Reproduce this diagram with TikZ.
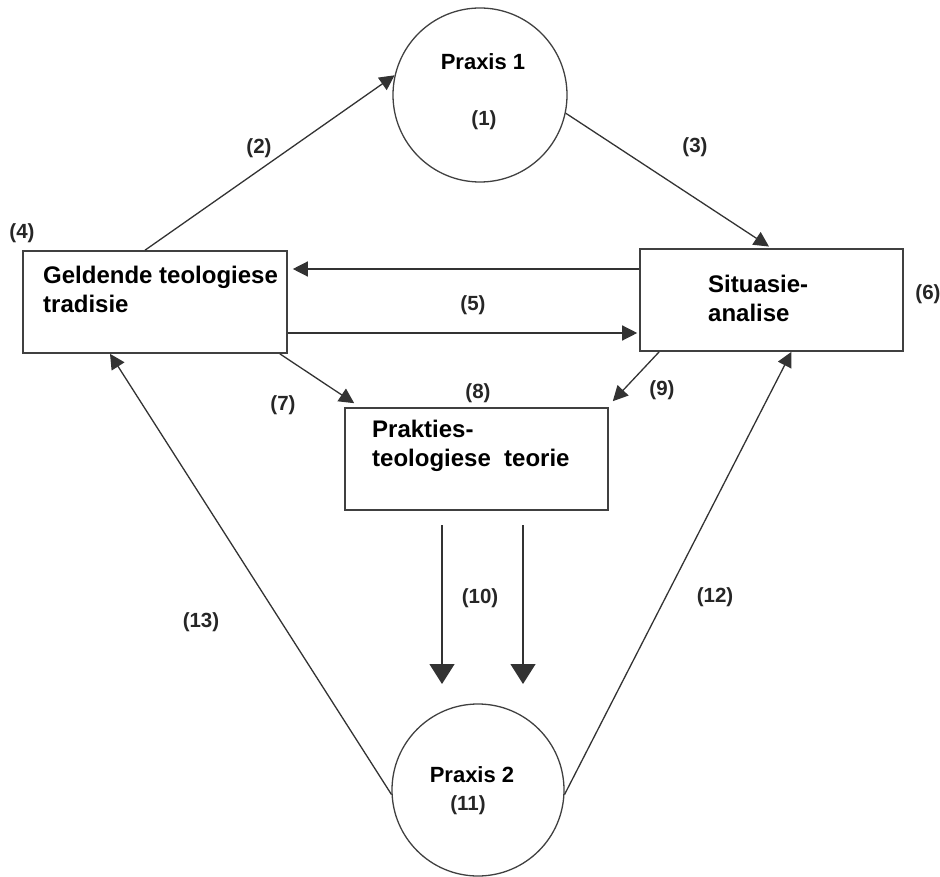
\documentclass[tikz,border=0pt]{standalone}
\usepackage{xcolor}
\usepackage{fontspec}
\setmainfont{Liberation Sans}
\usepackage{tikz}
\usetikzlibrary{arrows.meta}
\tikzset{box node/.style={rectangle,draw=black!75,line width=1.6pt,minimum width=263pt,minimum height=102pt,inner sep=0pt},
            circ node/.style={circle,draw=black!75,line width=1.3pt,minimum size=172pt,inner sep=0pt},
            box text/.style={anchor=north west,inner sep=0pt,align=left,font=\fontsize{24}{28.5}\selectfont\bfseries},
            circ text/.style={inner sep=0pt,font=\fontsize{22}{26}\selectfont\bfseries},
            num/.style={inner sep=0pt,font=\fontsize{20.5}{24}\selectfont\bfseries,text=black!85},
            link/.style={draw=black!80,line width=1.3pt,-{Triangle[width=15pt,length=15pt]}},
            big link/.style={draw=black!80,line width=1.3pt,-{Triangle[width=25pt,length=20pt]}},
            }
\begin{document}
\begin{tikzpicture}[x=1pt,y=-1pt]
					\useasboundingbox (0,0) rectangle (940,877);
					% circles
					\node[circ node,minimum size=174pt] (P1) at (480,95) {};
					\node[circ node] (P2) at (478,790) {};
					\node[circ text] (P1t) at (483,62) {Praxis 1};
					\node[circ text] (P2t) at (472,775) {Praxis 2};
					% boxes
					\node[box node,minimum width=264pt] (G) at (155,302) {};
					\node[box node] (S) at (771.5,300) {};
					\node[box node] (Pk) at (476.5,459) {};
					\node[box text] (Gt) at (43,266) {Geldende teologiese\\tradisie};
					\node[box text] (St) at (708,275) {Situasie-\\analise};
					\node[box text] (Pkt) at (372,420) {Prakties-\\teologiese\ \ teorie};
					% free ends of the two thick arrows
					\coordinate (D1) at (442,525);
					\coordinate (D1e) at (442,684);
					\coordinate (D2) at (523,525);
					\coordinate (D2e) at (523,684);
					
					\draw[link] ([xshift=-10pt]G.north) to (P1.167);
					\draw[link,shorten >=3pt] (P1.-12) to (S.north);
					\draw[link,shorten >=5pt] ([yshift=31pt]S.west) to ([yshift=33pt]G.east);
					\draw[link,shorten >=2pt] ([yshift=-31pt]G.east) to ([yshift=-33pt]S.west);
					\draw[link] ([xshift=-8pt]G.south east) to ([xshift=10pt,yshift=4pt]Pk.north west);
					\draw[link] ([xshift=20pt]S.south west) to ([xshift=4pt,yshift=6pt]Pk.north east);
					\draw[big link] (D1) to (D1e);
					\draw[big link] (D2) to (D2e);
					\draw[link] (P2.183) to ([xshift=-45pt]G.south);
					\draw[link] (P2.-3) to ([xshift=20pt]S.south);
					
					% numbers
					\node[num] (n1) at (484,120) {(1)};
					\node[num] (n2) at (259,148) {(2)};
					\node[num] (n3) at (695,147) {(3)};
					\node[num] (n4) at (22,233) {(4)};
					\node[num] (n5) at (473,305) {(5)};
					\node[num] (n6) at (928,294) {(6)};
					\node[num] (n7) at (283,405) {(7)};
					\node[num] (n8) at (478,393) {(8)};
					\node[num] (n9) at (662,390) {(9)};
					\node[num] (n10) at (480,598) {(10)};
					\node[num] (n11) at (468,805) {(11)};
					\node[num] (n12) at (715,597) {(12)};
					\node[num] (n13) at (201,622) {(13)};
				\end{tikzpicture}
\end{document}
